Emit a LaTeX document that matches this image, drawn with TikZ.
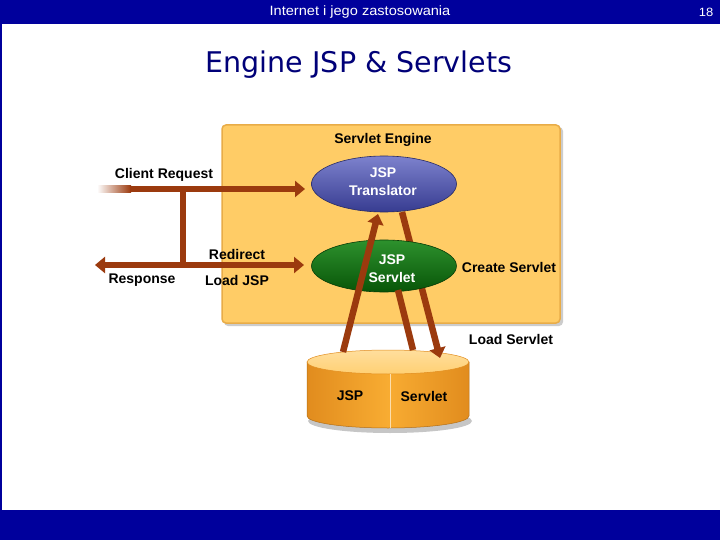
\documentclass[tikz,border=0pt]{standalone}
\usepackage{fontspec}
\setmainfont{Liberation Sans}
\newfontfamily\titlefont{DejaVu Sans}
\newfontfamily\hdrfont[FakeStretch=1.08]{Liberation Sans}
\usetikzlibrary{arrows.meta,shapes.geometric}
\definecolor{barblue}{RGB}{0,0,156}
\definecolor{titleblue}{RGB}{0,0,120}
\definecolor{boxfill}{RGB}{255,204,102}
\definecolor{boxedge}{RGB}{232,172,72}
\definecolor{arrowbrown}{RGB}{155,58,14}
\definecolor{transtop}{RGB}{125,130,205}
\definecolor{transbot}{RGB}{55,60,145}
\definecolor{servtop}{RGB}{45,145,45}
\definecolor{servbot}{RGB}{8,85,8}
\definecolor{dbfill}{RGB}{248,172,50}
\definecolor{dbdark}{RGB}{225,140,30}
\definecolor{dbtop}{RGB}{255,208,115}
\begin{document}
\begin{tikzpicture}[x=1pt,y=-1pt,
  lbl/.style={font=\fontsize{14}{16}\selectfont\bfseries, text=black, inner sep=0pt},
  wlbl/.style={font=\fontsize{14}{18}\selectfont\bfseries, text=white, inner sep=0pt, align=center},
  flow/.style={draw=arrowbrown, line width=6.5pt},
  tipend/.style={-{Triangle[length=10pt,width=16pt]}},
  bubble/.style={ellipse, inner sep=0pt, minimum width=145pt, line width=0.6pt}]
\useasboundingbox (0,0) rectangle (720,540);
\fill[white] (0,0) rectangle (720,540);
% bars
\fill[barblue] (0,0) rectangle (720,24);
\fill[barblue] (0,510) rectangle (720,540);
\draw[barblue, line width=1.5pt] (0.75,24) -- (0.75,510);
\node[text=white, font=\hdrfont\fontsize{13.5}{15}\selectfont, inner sep=0pt] (hdr) at (360,12) {Internet i jego zastosowania};
\node[text=white, font=\hdrfont\fontsize{12}{14}\selectfont, inner sep=0pt] (pg) at (706,12) {18};
\node[text=titleblue, font=\titlefont\fontsize{28.5}{32}\selectfont, inner sep=0pt] (title) at (359,65) {Engine JSP \& Servlets};
% engine box
\fill[gray!40, rounded corners=4pt] (224,127) rectangle (563,326);
\node[draw=boxedge, fill=boxfill, line width=1.5pt, rounded corners=4pt,
      minimum width=338pt, minimum height=198pt, inner sep=0pt] (engine) at (391,224) {};
\node[lbl] (enginelbl) at (383,140) {Servlet Engine};
% database
\fill[gray!45] (390,421) ellipse [x radius=82, y radius=12];
\path[left color=dbdark, right color=dbdark, middle color=dbfill, draw=dbdark!80!black, line width=0.5pt]
   (307,362) -- (307,416) arc[start angle=180, end angle=0, x radius=81, y radius=12] -- (469,362) -- cycle;
\path[top color=dbtop!70!white, bottom color=dbtop, draw=dbdark, line width=0.5pt]
   (388,362) ellipse [x radius=81, y radius=12];
\draw[white!60!dbfill, line width=0.8pt] (390,374) -- (390,428);
\node[lbl] (dbjsp) at (350,396) {JSP};
\node[lbl] (dbserv) at (424,396) {Servlet};
% line B behind servlet ellipse
\coordinate (b0) at (402,212);
\coordinate (b1) at (440,358);
\draw[flow, tipend] (b0) -- (b1);
% ellipses
\node[bubble, minimum height=56pt, top color=transtop, bottom color=transbot, draw=transbot!70!black] (trans) at (384,184) {};
\node[wlbl] (transtxt) at (383,182) {JSP\\Translator};
\node[bubble, minimum height=52pt, top color=servtop, bottom color=servbot, draw=servbot!70!black] (serv) at (384,266) {};
\node[wlbl] (servtxt) at (392,269) {JSP\\Servlet};
% lines A and C
\coordinate (a0) at (343,352);
\coordinate (a1) at (378,214);
\draw[flow, tipend] (a0) -- (a1);
\coordinate (c0) at (398,290);
\coordinate (c1) at (413,350);
\draw[flow] (c0) -- (c1);
% left flows
\coordinate (req1) at (130,189);
\coordinate (req2) at (305,189);
\coordinate (join1) at (183,189);
\coordinate (join2) at (183,265);
\coordinate (resp0) at (95,265);
\coordinate (resp1) at (304,265);
\fill[left color=white, right color=arrowbrown] (97,185.75) rectangle (131,192.25);
\draw[flow, tipend] (req1) -- (req2);
\draw[flow] (join1) -- (join2);
\draw[flow, {Triangle[length=10pt,width=16pt]}-{Triangle[length=10pt,width=16pt]}] (resp0) -- (resp1);
% labels
\node[lbl] (l1) at (164,175) {Client Request};
\node[lbl] (l2) at (237,254) {Redirect};
\node[lbl] (l3) at (142,280) {Response};
\node[lbl] (l4) at (237,280) {Load JSP};
\node[lbl] (l5) at (509,267) {Create Servlet};
\node[lbl] (l6) at (511,339) {Load Servlet};
\end{tikzpicture}
\end{document}
